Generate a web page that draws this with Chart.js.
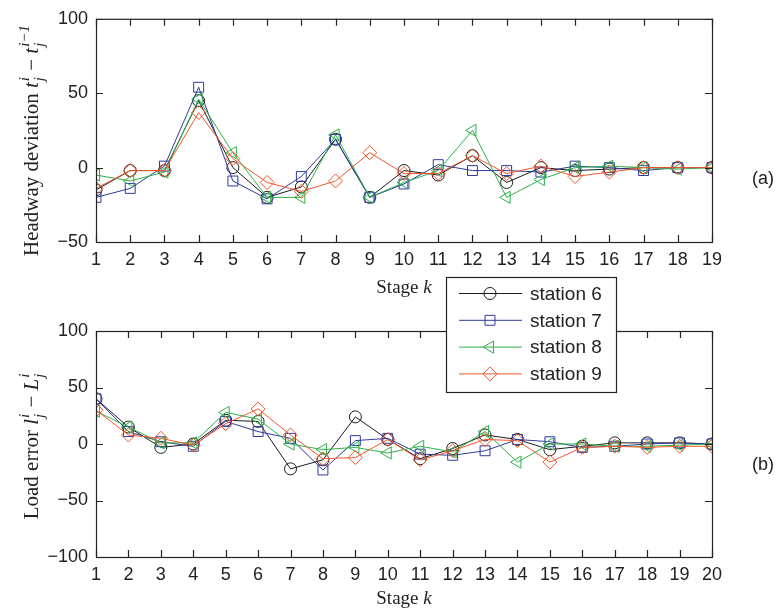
<!DOCTYPE html>
<html>
<head>
<meta charset="utf-8">
<script src="https://cdn.jsdelivr.net/npm/chart.js@4.4.0/dist/chart.umd.min.js"></script>
<style>
  html, body { margin: 0; padding: 0; background: #fff; }
  #wrap { position: relative; width: 777px; height: 615px; }
  #wrap canvas { position: absolute; left: 0; }
</style>
</head>
<body>
<div id="wrap">
  <canvas id="chartA" width="777" height="300" style="top:0"></canvas>
  <canvas id="chartB" width="777" height="345" style="top:270px"></canvas>
</div>
<script>
'use strict';

// stages on the x axis
var STAGES_A = [1, 2, 3, 4, 5, 6, 7, 8, 9, 10, 11, 12, 13, 14, 15, 16, 17, 18, 19];
var STAGES_B = [1, 2, 3, 4, 5, 6, 7, 8, 9, 10, 11, 12, 13, 14, 15, 16, 17, 18, 19, 20];

// (a) headway deviation per station
var HEADWAY_ST6 = [-15, -2, -2, 45, 0, -20, -13, 19, -20, -2, -5, 8, -10, 0, -2, -1, 0, 0, 0];
var HEADWAY_ST7 = [-20, -14, 1, 54, -9, -21, -6, 19, -20, -11, 2, -2, -2, -3, 1, 0, -2, 0, 0];
var HEADWAY_ST8 = [-5, -9, -3, 46, 10, -20, -20, 22, -20, -10, -2, 25, -20, -8, 0, 1, 0, -1, 0];
var HEADWAY_ST9 = [-14, -2, -2, 37, 6, -10, -16, -9, 10, -4, -4, 8, -4, 1, -6, -3, 0, 0, 0];

// (b) load error per station
var LOAD_ST6 = [40, 15, -3, 0, 21, 20, -22, -14, 24, 4, -13, -4, 8, 4, -5, -2, 1, 1, 1, 0];
var LOAD_ST7 = [40, 11, 2, -2, 20, 11, 5, -23, 3, 5, -9, -10, -6, 4, 2, -3, -2, 0, 1, 0];
var LOAD_ST8 = [29, 15, 1, 1, 28, 22, 0, -5, -3, -8, -2, -7, 11, -16, 0, 0, -2, -2, -1, 0];
var LOAD_ST9 = [30, 8, 5, -1, 18, 31, 8, -13, -12, 4, -14, -6, 4, 3, -16, -3, -2, -3, -2, -2];

var STATION_NAMES = ['station 6', 'station 7', 'station 8', 'station 9'];
var STATION_COLORS = ['#1c1c1c', '#2e3a9c', '#2db24a', '#f2572d'];
var STATION_MARKERS = ['circle', 'rect', 'triangle', 'rectRot'];
var MARKER_ROTATION = [0, 0, -90, 0];
var MARKER_RADIUS = [6, 7, 7, 7];

var SERIF = '"Liberation Serif", "DejaVu Serif", serif';
var SANS = '"Liberation Sans", Arial, sans-serif';
var INK = '#222';

function makeDatasets(stages, series) {
  return series.map(function (vals, i) {
    return {
      label: STATION_NAMES[i],
      data: stages.map(function (s, k) { return {x: s, y: vals[k]}; }),
      borderColor: STATION_COLORS[i],
      backgroundColor: 'rgba(0,0,0,0)',
      borderWidth: 1,
      tension: 0,
      pointStyle: STATION_MARKERS[i],
      pointRotation: MARKER_ROTATION[i],
      pointRadius: MARKER_RADIUS[i],
      pointBorderWidth: 1,
      pointBorderColor: STATION_COLORS[i],
      pointBackgroundColor: 'rgba(0,0,0,0)',
      order: 3 - i  // station 9 on top, like matlab
    };
  });
}

// text with little stacked sup/sub scripts, drawn part by part
function drawParts(ctx, parts, size, doDraw) {
  var x = 0;
  parts.forEach(function (p) {
    ctx.font = (p.it ? 'italic ' : '') + size + 'px ' + SERIF;
    if (doDraw) ctx.fillText(p.t, x, 0);
    x += ctx.measureText(p.t).width;
    if (p.sup || p.sub) {
      ctx.font = 'italic ' + Math.round(size * 0.7) + 'px ' + SERIF;
      var w1 = p.sup ? ctx.measureText(p.sup).width : 0;
      var w2 = p.sub ? ctx.measureText(p.sub).width : 0;
      if (doDraw && p.sup) ctx.fillText(p.sup, x + 1, -size * 0.42);
      if (doDraw && p.sub) ctx.fillText(p.sub, x + 1, size * 0.28);
      x += Math.max(w1, w2) + 2;
    }
  });
  return x;
}

function drawLabel(ctx, parts, cx, cy, size, vertical) {
  ctx.save();
  ctx.translate(cx, cy);
  if (vertical) ctx.rotate(-Math.PI / 2);
  ctx.fillStyle = INK;
  ctx.textAlign = 'left';
  ctx.textBaseline = 'alphabetic';
  var w = drawParts(ctx, parts, size, false);
  ctx.translate(-w / 2, size * 0.33);
  drawParts(ctx, parts, size, true);
  ctx.restore();
}

function drawMarker(ctx, i, x, y) {
  ctx.strokeStyle = STATION_COLORS[i];
  ctx.fillStyle = 'rgba(0,0,0,0)';
  ctx.lineWidth = 1;
  Chart.helpers.drawPoint(ctx, {
    pointStyle: STATION_MARKERS[i],
    rotation: MARKER_ROTATION[i],
    radius: MARKER_RADIUS[i],
    borderWidth: 1
  }, x, y);
}

// matlab style box, inward ticks, axis titles, panel tag and legend
function decor(cfg) {
  return {
    id: 'decor',
    afterDraw: function (chart) {
      var ctx = chart.ctx;
      var a = chart.chartArea;
      var xs = chart.scales.x, ys = chart.scales.y;
      var TL = 7;
      ctx.save();
      ctx.strokeStyle = INK;
      ctx.lineWidth = 1.2;
      ctx.strokeRect(a.left + 0.5, a.top + 0.5, a.right - a.left, a.bottom - a.top);
      ctx.beginPath();
      xs.ticks.forEach(function (t) {
        var px = Math.round(xs.getPixelForValue(t.value)) + 0.5;
        ctx.moveTo(px, a.bottom); ctx.lineTo(px, a.bottom - TL);
        ctx.moveTo(px, a.top); ctx.lineTo(px, a.top + TL);
      });
      ys.ticks.forEach(function (t) {
        var py = Math.round(ys.getPixelForValue(t.value)) + 0.5;
        ctx.moveTo(a.left, py); ctx.lineTo(a.left + TL, py);
        ctx.moveTo(a.right, py); ctx.lineTo(a.right - TL, py);
      });
      ctx.stroke();

      drawLabel(ctx, cfg.yTitle, 31, cfg.yTitleY, 21, true);
      drawLabel(ctx, [{t: 'Stage '}, {t: 'k', it: true}], (a.left + a.right) / 2, cfg.xTitleY, 19, false);

      ctx.fillStyle = INK;
      ctx.font = '18px ' + SANS;
      ctx.textAlign = 'center';
      ctx.textBaseline = 'middle';
      ctx.fillText(cfg.tag, 763, cfg.tagY);

      if (cfg.legend) {
        var L = cfg.legend;
        ctx.fillStyle = '#fff';
        ctx.fillRect(L.x, L.y, L.w, L.h);
        ctx.strokeStyle = INK;
        ctx.lineWidth = 1.2;
        ctx.strokeRect(L.x + 0.5, L.y + 0.5, L.w, L.h);
        chart.data.datasets.forEach(function (ds, i) {
          var ry = L.y + 16.5 + i * 26.8;
          ctx.strokeStyle = ds.borderColor;
          ctx.lineWidth = 1;
          ctx.beginPath();
          ctx.moveTo(L.x + 13, ry); ctx.lineTo(L.x + 76, ry);
          ctx.stroke();
          drawMarker(ctx, i, L.x + 44, ry);
          ctx.fillStyle = INK;
          ctx.font = '19px ' + SANS;
          ctx.textAlign = 'left';
          ctx.textBaseline = 'middle';
          ctx.fillText(ds.label, L.x + 84, ry + 1);
        });
      }
      ctx.restore();
    }
  };
}

function axisOptions(xmax, ymin, ymax) {
  var tickFont = {family: SANS, size: 18};
  return {
    x: {
      type: 'linear', min: 1, max: xmax,
      grid: {display: false, drawTicks: false},
      border: {display: false},
      ticks: {stepSize: 1, color: INK, font: tickFont, padding: 7, maxRotation: 0, autoSkip: false},
      afterFit: function (s) { s.height = 30; }
    },
    y: {
      type: 'linear', min: ymin, max: ymax,
      grid: {display: false, drawTicks: false},
      border: {display: false},
      ticks: {
        stepSize: 50, color: INK, font: tickFont, padding: 8,
        callback: function (v) { return String(v).replace('-', '\u2212'); }
      },
      afterFit: function (s) { s.width = 96; }
    }
  };
}

Chart.defaults.animation = false;

new Chart(document.getElementById('chartA').getContext('2d'), {
  type: 'line',
  data: {datasets: makeDatasets(STAGES_A, [HEADWAY_ST6, HEADWAY_ST7, HEADWAY_ST8, HEADWAY_ST9])},
  options: {
    responsive: false,
    layout: {padding: {left: 0, right: 65, top: 17, bottom: 28}},
    scales: axisOptions(19, -50, 100),
    plugins: {legend: {display: false}, tooltip: {enabled: false}}
  },
  plugins: [decor({
    yTitle: [{t: 'Headway deviation '}, {t: 't', it: true, sup: 'i', sub: 'j'}, {t: ' \u2212 '}, {t: 't', it: true, sup: 'i\u22121', sub: 'j'}],
    yTitleY: 140,
    xTitleY: 287,
    tag: '(a)', tagY: 179
  })]
});

new Chart(document.getElementById('chartB').getContext('2d'), {
  type: 'line',
  data: {datasets: makeDatasets(STAGES_B, [LOAD_ST6, LOAD_ST7, LOAD_ST8, LOAD_ST9])},
  options: {
    responsive: false,
    layout: {padding: {left: 0, right: 65, top: 61, bottom: 28}},
    scales: axisOptions(20, -100, 100),
    plugins: {legend: {display: false}, tooltip: {enabled: false}}
  },
  plugins: [decor({
    yTitle: [{t: 'Load error '}, {t: 'l', it: true, sup: 'i', sub: 'j'}, {t: ' \u2212 '}, {t: 'L', it: true, sup: 'i', sub: 'j'}],
    yTitleY: 176,
    xTitleY: 328,
    tag: '(b)', tagY: 195,
    legend: {x: 446, y: 7, w: 170, h: 115}
  })]
});
</script>
</body>
</html>
